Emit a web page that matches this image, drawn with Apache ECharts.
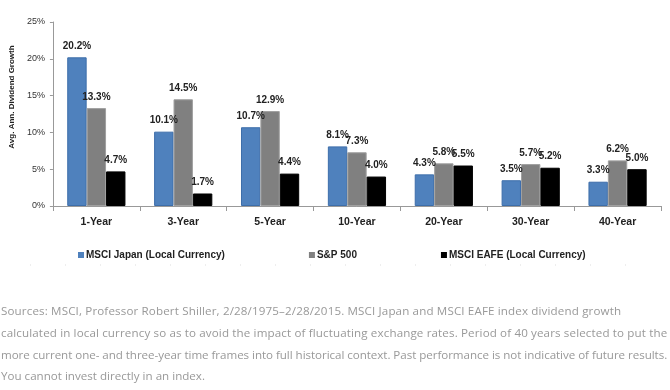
<!DOCTYPE html>
<html>
<head>
<meta charset="utf-8">
<script src="https://cdn.jsdelivr.net/npm/echarts@6/dist/echarts.min.js"></script>
<style>
  html, body { margin: 0; padding: 0; background: #fff; }
  #chart { position: absolute; left: 0; top: 0; width: 670px; height: 390px; }
  #note {
    position: absolute; left: 1px; top: 300px; width: 670px;
    font-family: "Open Sans", sans-serif;
    font-size: 11.6px; line-height: 21.8px; color: #999; white-space: nowrap;
  }
  #note .l1 { letter-spacing: 0.14px; }
  #note .l2 { letter-spacing: 0.13px; }
  #note .l3 { letter-spacing: -0.05px; }
</style>
</head>
<body>
<div id="chart"></div>
<div id="note"><span class="l1">Sources: MSCI, Professor Robert Shiller, 2/28/1975–2/28/2015. MSCI Japan and MSCI EAFE index dividend growth</span><br><span class="l2">calculated in local currency so as to avoid the impact of fluctuating exchange rates. Period of 40 years selected to put the</span><br><span class="l3">more current one- and three-year time frames into full historical context. Past performance is not indicative of future results.</span><br>You cannot invest directly in an index.</div>
<script>
var categories = ['1-Year', '3-Year', '5-Year', '10-Year', '20-Year', '30-Year', '40-Year'];
var japan = [20.2, 10.1, 10.7, 8.1, 4.3, 3.5, 3.3];
var sp500 = [13.3, 14.5, 12.9, 7.3, 5.8, 5.7, 6.2];
var eafe = [4.7, 1.7, 4.4, 4.0, 5.5, 5.2, 5.0];
var seriesNames = ['MSCI Japan (Local Currency)', 'S&P 500', 'MSCI EAFE (Local Currency)'];

var myChart = echarts.init(document.getElementById('chart'));

var labelStyle = {
    show: true,
    position: 'top',
    distance: 6,
    formatter: function (p) { return p.value.toFixed(1) + '%'; },
    fontFamily: 'Liberation Sans',
    fontWeight: 'bold',
    fontSize: 10,
    color: '#222'
};

function makeSeries(name, data, color, border) {
    return {
        name: name,
        type: 'bar',
        data: data,
        barGap: '0%',
        barCategoryGap: '33%',
        itemStyle: { color: color, borderColor: border, borderWidth: 1 },
        label: labelStyle
    };
}

var option = {
    animation: false,
    grid: { left: 51, right: 9, top: 22, bottom: 184 },
    legend: {
        left: 73,
        top: 245,
        itemGap: 84,
        itemWidth: 6,
        itemHeight: 6,
        icon: 'rect',
        itemStyle: { borderWidth: 0 },
        textStyle: { fontFamily: 'Liberation Sans', fontWeight: 'bold', fontSize: 10, color: '#222', padding: [0, 0, 0, -3] },
        data: seriesNames
    },
    xAxis: {
        type: 'category',
        data: categories,
        axisLine: { lineStyle: { color: '#999' } },
        axisTick: { show: true, length: 5, lineStyle: { color: '#999' } },
        axisLabel: { fontFamily: 'Liberation Sans', fontWeight: 'bold', fontSize: 10.5, color: '#222', margin: 11 }
    },
    yAxis: {
        type: 'value',
        min: 0,
        max: 25,
        interval: 5,
        name: 'Avg. Ann. Dividend Growth',
        nameLocation: 'middle',
        nameGap: 36,
        nameTextStyle: { fontFamily: 'Liberation Sans', fontWeight: 'bold', fontSize: 8, color: '#222', padding: [0, 0, 0, 34] },
        axisLine: { show: true, lineStyle: { color: '#999' } },
        axisTick: { show: true, length: 3, lineStyle: { color: '#999' } },
        splitLine: { show: false },
        axisLabel: { formatter: '{value}%', fontFamily: 'Liberation Sans', fontSize: 9, color: '#333', margin: 8 }
    },
    graphic: [{
        type: 'line',
        shape: { x1: 30, y1: 265, x2: 630, y2: 265 },
        style: { stroke: '#ddd', lineWidth: 1, lineDash: [1, 34] }
    }],
    series: [
        makeSeries(seriesNames[0], japan, '#4f81bd', '#3d6eaa'),
        makeSeries(seriesNames[1], sp500, '#808080', '#a0a0a0'),
        makeSeries(seriesNames[2], eafe, '#000000', '#000000')
    ]
};

myChart.setOption(option);
</script>
</body>
</html>
